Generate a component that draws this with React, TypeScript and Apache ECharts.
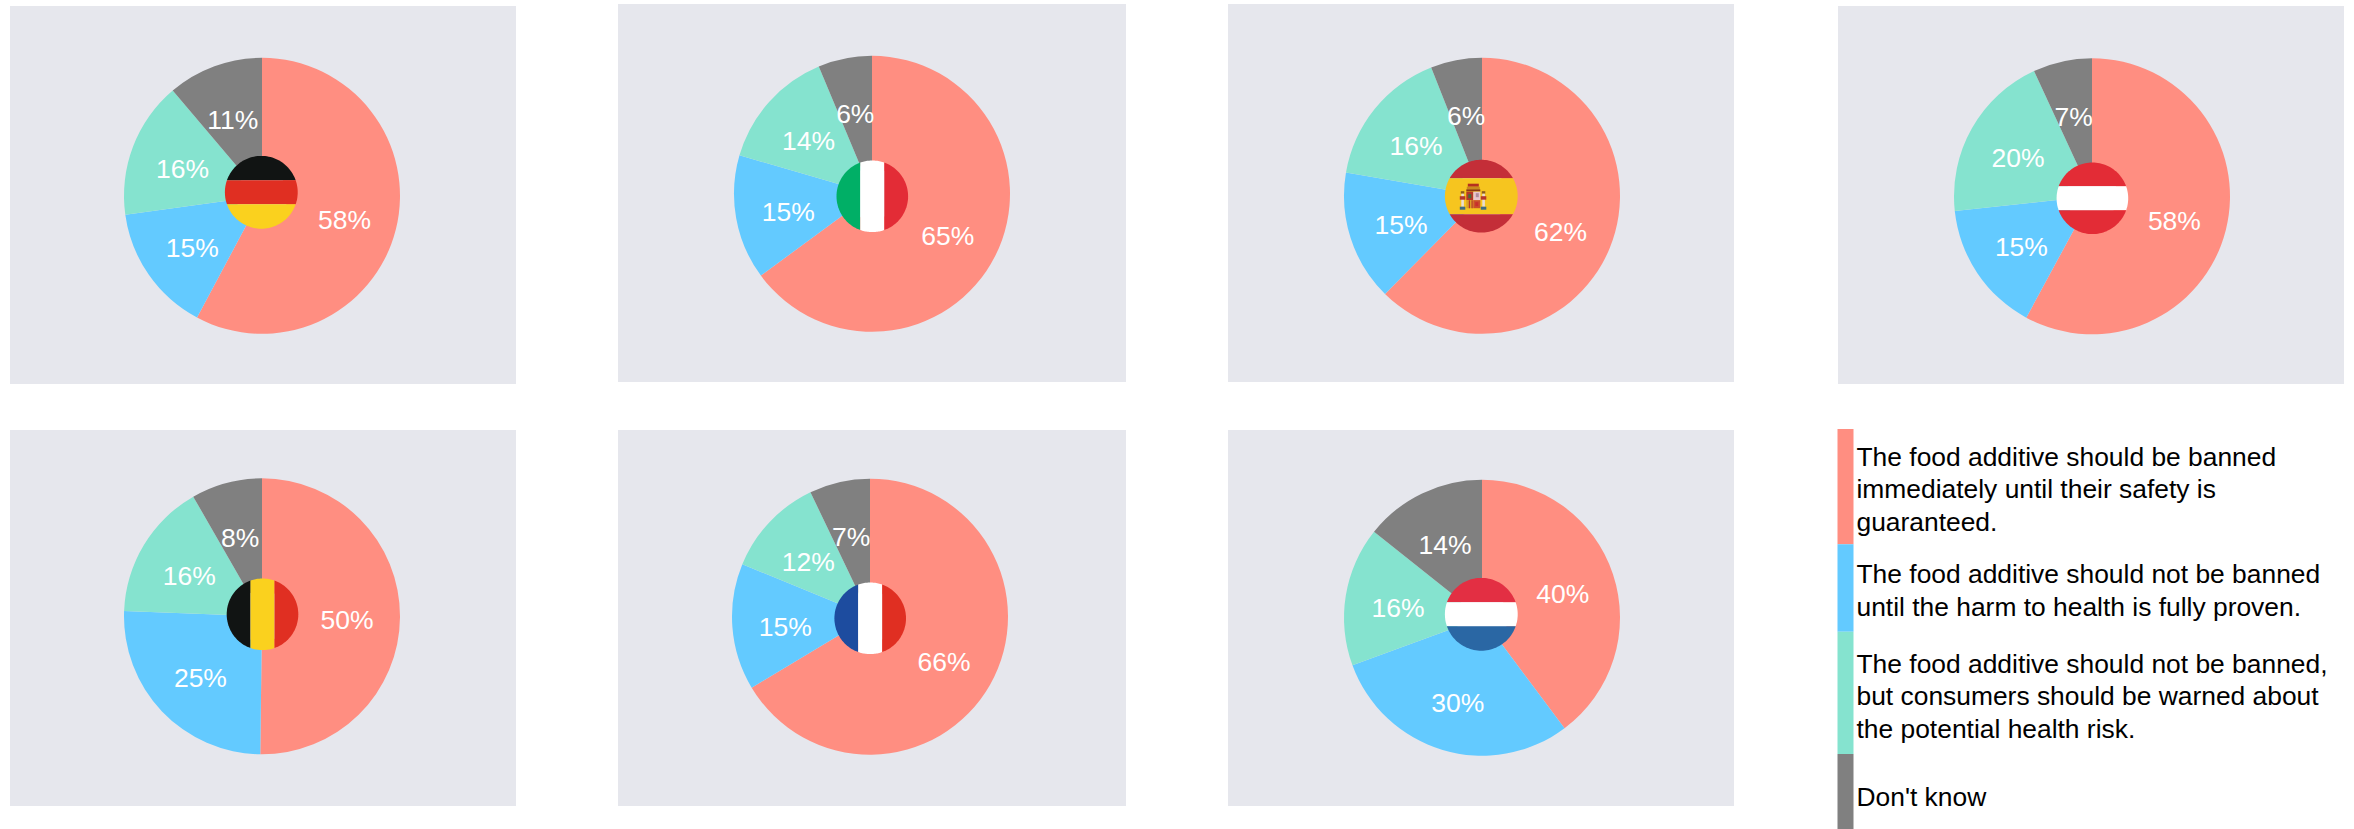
import React, { useEffect, useRef } from "react";
import * as echarts from "echarts";

const categories = [
  "The food additive should be banned immediately until their safety is guaranteed.",
  "The food additive should not be banned until the harm to health is fully proven.",
  "The food additive should not be banned, but consumers should be warned about the potential health risk.",
  "Don't know",
];
const legendLines = [
  "The food additive should be banned\nimmediately until their safety is\nguaranteed.",
  "The food additive should not be banned\nuntil the harm to health is fully proven.",
  "The food additive should not be banned,\nbut consumers should be warned about\nthe potential health risk.",
  "Don't know",
];
const germany = [57.8, 15.0, 16.0, 11.2];
const italy = [64.9, 14.6, 14.2, 6.3];
const spain = [62.4, 15.3, 16.3, 6.0];
const austria = [57.9, 15.4, 19.8, 6.9];
const belgium = [50.2, 25.4, 16.1, 8.3];
const france = [66.4, 14.8, 11.7, 7.1];
const netherlands = [39.8, 29.6, 16.3, 14.3];

const colors = ["#FF8E81", "#63CAFF", "#85E3CF", "#808080"];
const PANEL_BG = "#E6E7ED";
const FONT = '"Liberation Sans", Arial, sans-serif';
const R = 138;

type Band = [number, number, string];
const B = 12;
const H = (a: string, b: string, c: string) => ({ dir: "h", bands: [[-40, -B, a], [-B, B, b], [B, 40, c]] as Band[] });
const V = (a: string, b: string, c: string) => ({ dir: "v", bands: [[-40, -B, a], [-B, B, b], [B, 40, c]] as Band[] });

const panels = [
  { values: germany, rect: [10, 6, 506, 378], c: [262, 195.8], f: [261.3, 192.3], fr: 36.4, flag: H("#111413", "#E02F22", "#FAD11E") },
  { values: italy, rect: [618, 4, 508, 378], c: [872, 193.8], f: [872.3, 196.3], fr: 35.8, flag: V("#00AF66", "#FFFFFF", "#E32C36") },
  { values: spain, rect: [1228, 4, 506, 378], c: [1482, 195.8], f: [1481.3, 196.2], fr: 36.4, flag: { dir: "h", bands: [[-40, -18, "#C42E38"], [-18, 18, "#F6C51F"], [18, 40, "#C42E38"]] as Band[] } },
  { values: austria, rect: [1838, 6, 506, 378], c: [2092, 196.3], f: [2092.4, 198.3], fr: 35.8, flag: H("#E32C36", "#FFFFFF", "#E32C36") },
  { values: belgium, rect: [10, 430, 506, 376], c: [262, 616.3], f: [262.5, 614.3], fr: 35.8, flag: V("#111413", "#FAD11E", "#E02F22") },
  { values: france, rect: [618, 430, 508, 376], c: [870, 616.7], f: [870.2, 618.3], fr: 35.8, flag: V("#1D4C9F", "#FFFFFF", "#E02F22") },
  { values: netherlands, rect: [1228, 430, 506, 376], c: [1482, 617.7], f: [1481.3, 614.3], fr: 36.4, flag: H("#E32F43", "#FFFFFF", "#2A67A4") },
];

const legendBars = [
  { y0: 429, y1: 544.3, ty: 440.8 },
  { y0: 544.3, y1: 631.7, ty: 558.2 },
  { y0: 631.7, y1: 754, ty: 647.9 },
  { y0: 754, y1: 829, ty: 780.6 },
];

// Circular segment between two parallel chords, as a polygon
function bandPoints(cx: number, cy: number, r: number, a: number, b: number, dir: string) {
  const lo = Math.max(a, -r);
  const hi = Math.min(b, r);
  const pts: number[][] = [];
  const angLo = Math.asin(lo / r);
  const angHi = Math.asin(hi / r);
  const n = 24;
  for (let i = 0; i <= n; i++) {
    const t = angLo + ((angHi - angLo) * i) / n;
    const u = r * Math.sin(t);
    const w = r * Math.cos(t);
    pts.push(dir === "h" ? [cx + w, cy + u] : [cx + u, cy + w]);
  }
  for (let i = n; i >= 0; i--) {
    const t = angLo + ((angHi - angLo) * i) / n;
    const u = r * Math.sin(t);
    const w = r * Math.cos(t);
    pts.push(dir === "h" ? [cx - w, cy + u] : [cx + u, cy - w]);
  }
  return pts;
}

function coatOfArms(cx: number, cy: number) {
  const r = (x: number, y: number, w: number, h: number, fill: string) => ({
    type: "rect", z: 12, shape: { x: cx + x, y: cy + y, width: w, height: h }, style: { fill },
  });
  return [
    // crown
    r(-13.5, -12.5, 11, 3, "#B5301F"),
    r(-14.5, -9.5, 13, 3, "#C98A1E"),
    r(-15, -6.8, 14, 2, "#8A3A16"),
    // shield
    r(-15, -4.5, 7, 8.5, "#B5372A"),
    r(-8, -4.5, 7, 8.5, "#E9C6CE"),
    r(-15, 4, 7, 8, "#D9A126"),
    r(-8, 4, 7, 8, "#C9502C"),
    r(-13, -2, 3, 4, "#4B6A3A"),
    r(-6, 6, 3, 4, "#C9302C"),
    r(-12.5, 4, 1.2, 8, "#B5372A"),
    r(-9.8, 4, 1.2, 8, "#B5372A"),
    r(-5.5, -3, 3, 4, "#B08CA0"),
    // pillars
    r(-20.5, -5, 3.5, 2.5, "#8A5A1E"),
    r(-20, -2.5, 2.6, 13, "#E9DDD2"),
    r(-21.5, 0, 5.5, 3.5, "#B5372A"),
    r(-21.5, 10.5, 5.5, 3, "#3E6C82"),
    r(0.5, -5, 3.5, 2.5, "#8A5A1E"),
    r(1, -2.5, 2.6, 13, "#E9DDD2"),
    r(-0.5, 0, 5.5, 3.5, "#B5372A"),
    r(-0.5, 10.5, 5.5, 3, "#3E6C82"),
  ];
}

export default function App() {
  const ref = useRef<HTMLDivElement>(null);
  useEffect(() => {
    const chart = echarts.init(ref.current!, undefined, { renderer: "svg" });

    const elements: any[] = [];
    panels.forEach((p) => {
      elements.push({
        type: "rect", z: 0, shape: { x: p.rect[0], y: p.rect[1], width: p.rect[2], height: p.rect[3] },
        style: { fill: PANEL_BG },
      });
      p.flag.bands.forEach(([a, b, fill]) => {
        elements.push({
          type: "polygon", z: 10,
          shape: { points: bandPoints(p.f[0], p.f[1], p.fr, a, b, p.flag.dir) },
          style: { fill },
        });
      });
    });
    elements.push(...coatOfArms(panels[2].f[0], panels[2].f[1]));
    legendBars.forEach((b, i) => {
      elements.push({
        type: "rect", z: 0, shape: { x: 1837.5, y: b.y0, width: 16, height: b.y1 - b.y0 },
        style: { fill: colors[i] },
      });
      elements.push({
        type: "text", z: 1, x: 1856.5, y: b.ty,
        style: {
          text: legendLines[i], fill: "#000000", font: `26.4px ${FONT}`, lineHeight: 32.3,
          align: "left", verticalAlign: "top",
        },
      });
    });

    chart.setOption({
      animation: false,
      backgroundColor: "#FFFFFF",
      tooltip: { show: false },
      graphic: { elements },
      series: panels.map((p) => ({
        type: "pie",
        silent: true,
        center: p.c,
        radius: [26, R],
        startAngle: 90,
        clockwise: true,
        avoidLabelOverlap: false,
        itemStyle: { borderWidth: 0 },
        emphasis: { disabled: true },
        labelLine: { show: false },
        labelLayout: { dy: 3.5, hideOverlap: false },
        label: {
          show: true,
          position: "inside",
          color: "#FFFFFF",
          fontFamily: FONT,
          fontSize: 26.5,
          formatter: (a: any) => `${Math.round(a.value)}%`,
        },
        data: categories.map((name, i) => ({
          name,
          value: p.values[i],
          itemStyle: { color: colors[i] },
        })),
      })),
    });
    return () => chart.dispose();
  }, []);
  return <div ref={ref} style={{ position: "absolute", left: 0, top: 0, width: 2354, height: 829 }} />;
}
